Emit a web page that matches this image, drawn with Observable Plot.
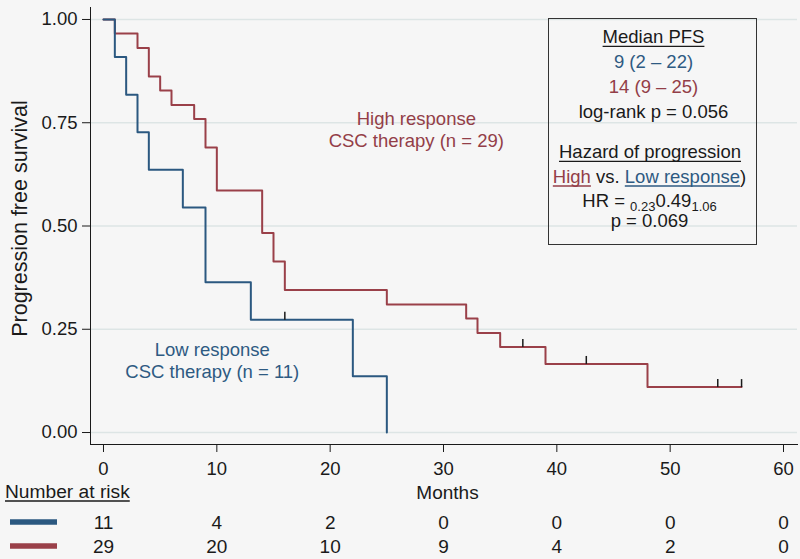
<!DOCTYPE html>
<html><head><meta charset="utf-8">
<script src="https://cdn.jsdelivr.net/npm/d3@7"></script>
<script src="https://cdn.jsdelivr.net/npm/@observablehq/plot@0.6"></script>
<style>
html,body{margin:0;padding:0;background:#f6f6f6;}
#chart{position:relative;width:800px;height:559px;}
</style></head><body><div id="chart"></div>
<script>
// ---- data ----
const lowTimes  = [0, 1, 2, 3, 4, 7, 9, 13, 22, 25];
const lowSurv   = [1, 0.909, 0.818, 0.727, 0.636, 0.545, 0.364, 0.273, 0.136, 0];
const highTimes = [0, 1, 3, 4, 5, 6, 8, 9, 10, 14, 15, 16, 25, 32, 33, 35, 39, 48, 56.3];
const highSurv  = [1, 0.966, 0.931, 0.862, 0.828, 0.793, 0.759, 0.690, 0.586, 0.483, 0.414, 0.345, 0.310, 0.276, 0.241, 0.207, 0.166, 0.110, 0.110];
const lowCensorTimes  = [16];
const lowCensorSurv   = [0.273];
const highCensorTimes = [37, 42.6, 54.2, 56.3];
const highCensorSurv  = [0.207, 0.166, 0.110, 0.110];
const riskTimes = [0, 10, 20, 30, 40, 50, 60];
const lowRisk   = [11, 4, 2, 0, 0, 0, 0];
const highRisk  = [29, 20, 10, 9, 4, 2, 0];
const xTicks = [0, 10, 20, 30, 40, 50, 60];
const yTicks = [0, 0.25, 0.5, 0.75, 1];
const lowLabel  = "Low response\nCSC therapy (n = 11)";
const highLabel = "High response\nCSC therapy (n = 29)";

const BLUE = "#2b5880", RED = "#9a4049", BLUE_T = "#2e5a82", RED_T = "#933e48", INK = "#1a1a1a";
const FONT = "'Liberation Sans', Arial, Helvetica, sans-serif";

const zip = (a, b) => a.map((t, i) => ({t, s: b[i]}));
const lowData = zip(lowTimes, lowSurv), highData = zip(highTimes, highSurv);
const lowCens = zip(lowCensorTimes, lowCensorSurv), highCens = zip(highCensorTimes, highCensorSurv);
const lowRiskData = riskTimes.map((t, i) => ({t, n: lowRisk[i]}));
const highRiskData = riskTimes.map((t, i) => ({t, n: highRisk[i]}));

const censorSymbol = {draw(ctx) { ctx.moveTo(0, 0); ctx.lineTo(0, -8); }};

const plot = Plot.plot({
  width: 800, height: 559,
  marginLeft: 90, marginRight: 3, marginTop: 7, marginBottom: 115,
  style: {background: "transparent", fontFamily: FONT, fontSize: "18.5px", color: INK, overflow: "visible"},
  x: {domain: [-1.147, 61.235]},
  y: {domain: [-0.029, 1.029]},
  marks: [
    Plot.gridY(yTicks, {stroke: "#dde5e5", strokeOpacity: 1, strokeWidth: 1.5}),
    Plot.frame({anchor: "left", stroke: INK}),
    Plot.frame({anchor: "bottom", stroke: INK}),
    Plot.axisY(yTicks, {tickSize: 8, tickPadding: 5, tickFormat: d3.format(".2f"), label: null, stroke: INK, fill: INK}),
    Plot.axisX(xTicks, {tickSize: 8, tickPadding: 9, label: null, stroke: INK, fill: INK}),
    Plot.line(highData, {x: "t", y: "s", curve: "step-after", stroke: RED, strokeWidth: 2}),
    Plot.line(lowData, {x: "t", y: "s", curve: "step-after", stroke: BLUE, strokeWidth: 2}),
    Plot.dot(highCens, {x: "t", y: "s", symbol: censorSymbol, stroke: INK, strokeWidth: 1.5, fill: "none"}),
    Plot.dot(lowCens, {x: "t", y: "s", symbol: censorSymbol, stroke: INK, strokeWidth: 1.5, fill: "none"}),
    Plot.text([highLabel], {text: d => d, x: 27.6, y: 0.735, fill: RED_T, lineHeight: 1.2}),
    Plot.text([lowLabel], {text: d => d, x: 9.6, y: 0.1755, fill: BLUE_T, lineHeight: 1.17}),
    Plot.text(["Months"], {text: d => d, frameAnchor: "bottom", textAnchor: "middle", lineAnchor: "middle", dx: 3.5, dy: 48, fill: INK, fontSize: 19}),
    Plot.text(lowRiskData, {x: "t", text: "n", frameAnchor: "bottom", lineAnchor: "middle", dy: 78, fill: INK, fontSize: 19}),
    Plot.text(highRiskData, {x: "t", text: "n", frameAnchor: "bottom", lineAnchor: "middle", dy: 102, fill: INK, fontSize: 19}),
    Plot.text(["Progression free survival"], {text: d => d, frameAnchor: "left", textAnchor: "middle", lineAnchor: "middle", rotate: -90, dx: -70, dy: -7.5, fill: INK, fontSize: 21.5})
  ]
});
document.getElementById("chart").appendChild(plot);

// ---- annotation box and risk-table legend (drawn into the same SVG) ----
const svg = d3.select(plot);
const g = svg.append("g").attr("font-family", FONT).attr("font-size", 18.5)
  .attr("fill", INK).attr("text-anchor", "start");

function run(cx, baseline, parts) {
  const nodes = parts.map(p => {
    const t = g.append("text").attr("y", baseline + (p.sub ? 4.5 : 0))
      .attr("font-size", p.sub ? 13 : 18.5).attr("fill", p.color || INK)
      .attr("text-anchor", "start").attr("xml:space", "preserve")
      .style("white-space", "pre").text(p.text);
    return {t, w: t.node().getComputedTextLength(), p};
  });
  const total = d3.sum(nodes, n => n.w);
  let x = cx - total / 2;
  for (const n of nodes) {
    n.t.attr("x", x);
    if (n.p.underline) {
      g.append("line").attr("x1", x).attr("x2", x + n.w)
        .attr("y1", baseline + 3).attr("y2", baseline + 3)
        .attr("stroke", n.p.color || INK).attr("stroke-width", 1.3);
    }
    x += n.w;
  }
}

g.append("rect").attr("x", 548.5).attr("y", 18.5).attr("width", 208).attr("height", 226)
  .attr("fill", "none").attr("stroke", "#333").attr("stroke-width", 1);
const cx = 652.5;
run(cx + 1, 43.3, [{text: "Median PFS", underline: true}]);
run(cx + 1, 68, [{text: "9 (2 – 22)", color: BLUE_T}]);
run(cx + 1, 92.5, [{text: "14 (9 – 25)", color: RED_T}]);
run(cx + 1, 117.5, [{text: "log-rank p = 0.056"}]);
run(cx - 2.5, 158.3, [{text: "Hazard of progression", underline: true}]);
run(cx - 3, 183, [{text: "High", color: RED_T, underline: true}, {text: " vs."}, {text: " "}, {text: "Low response", color: BLUE_T, underline: true}, {text: ")"}]);
run(cx - 3, 206.5, [{text: "HR = "}, {text: "0.23", sub: true}, {text: "0.49"}, {text: "1.06", sub: true}]);
run(cx - 3, 227, [{text: "p = 0.069"}]);

// Number at risk legend
const nar = g.append("text").attr("x", 5).attr("y", 498).attr("font-size", 19.2).attr("text-anchor", "start").text("Number at risk");
const narW = nar.node().getComputedTextLength();
g.append("line").attr("x1", 5).attr("x2", 5 + narW).attr("y1", 501).attr("y2", 501).attr("stroke", INK).attr("stroke-width", 1.3);
g.append("line").attr("x1", 10).attr("x2", 57).attr("y1", 522).attr("y2", 522).attr("stroke", BLUE).attr("stroke-width", 5.5);
g.append("line").attr("x1", 10).attr("x2", 57).attr("y1", 546).attr("y2", 546).attr("stroke", RED).attr("stroke-width", 5.5);
</script></body></html>
